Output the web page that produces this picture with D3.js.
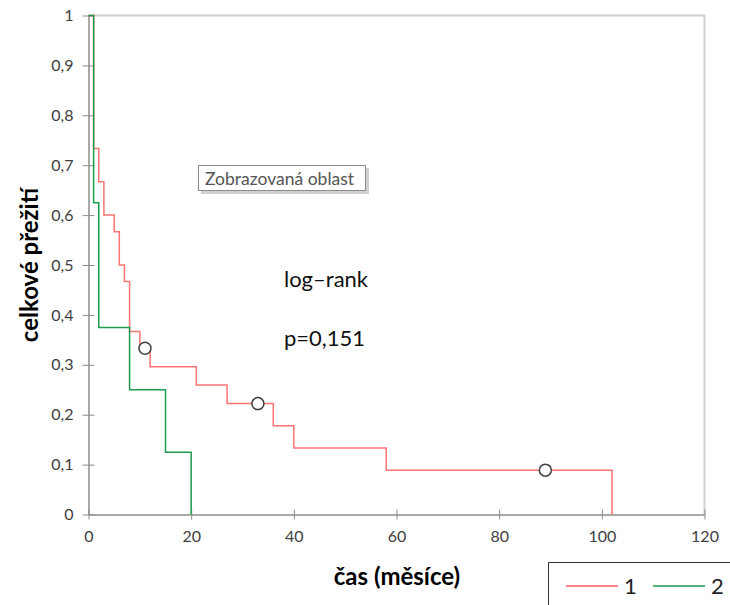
<!DOCTYPE html>
<html><head><meta charset="utf-8">
<script src="https://cdn.jsdelivr.net/npm/d3@7"></script>
<style>body{margin:0;background:#fff}svg{display:block;font-family:Lato,"Open Sans",sans-serif}</style>
</head><body><svg id="c" width="730" height="605"></svg>
<script>
// Group 1 (red) step times and survival
const times1 = [0, 1, 2, 3, 5, 6, 7, 8, 10, 12, 21, 27, 36, 40, 58, 102];
const surv1  = [1, 0.7333, 0.6667, 0.6, 0.5667, 0.5, 0.4667, 0.3667, 0.3333, 0.2963, 0.2593, 0.2222, 0.1778, 0.1333, 0.0889, 0];
const censT1 = [11, 33, 89];
const censS1 = [0.3333, 0.2222, 0.0889];
// Group 2 (green)
const times2 = [0, 1, 2, 8, 15, 20];
const surv2  = [1, 0.625, 0.375, 0.25, 0.125, 0];
const xTicks = [0, 20, 40, 60, 80, 100, 120];
const yTicks = [0, 0.1, 0.2, 0.3, 0.4, 0.5, 0.6, 0.7, 0.8, 0.9, 1];
const seriesNames = ["1", "2"];
const colors = ["#ff5a5a", "#1f9a4e"];

const svg = d3.select("#c");
const x = d3.scaleLinear().domain([0, 120]).range([88.5, 704.5]);
const y = d3.scaleLinear().domain([0, 1]).range([514.5, 15.5]);
const fmt = d => String(d).replace(".", ",");

// frame (top & right)
svg.append("path").attr("d", `M${x(0)},${y(1)}H${x(120)}V${y(0)}`)
  .attr("fill", "none").attr("stroke", "#d0d0d0").attr("stroke-width", 2);

// axes
const xa = svg.append("g").attr("transform", `translate(0,${y(0)})`)
  .call(d3.axisBottom(x).tickValues(xTicks).tickSize(5).tickSizeOuter(0).tickFormat(d => d));
xa.selectAll(".tick line").attr("y1", -5);
const ya = svg.append("g").attr("transform", `translate(${x(0)},0)`)
  .call(d3.axisLeft(y).tickValues(yTicks).tickSize(5).tickSizeOuter(0).tickFormat(fmt));
ya.selectAll(".tick line").attr("x1", -6).attr("x2", 6);
[xa, ya].forEach(a => {
  a.select(".domain").attr("stroke", "#8c8c8c").attr("stroke-width", 1.5);
  a.selectAll(".tick line").attr("stroke", "#8c8c8c");
  a.selectAll("text").attr("fill", "#404040").style("font-size", "16px").style("font-family", "Lato, sans-serif");
});
xa.selectAll("text").attr("y", 16);
ya.selectAll("text").attr("x", -15);

// step lines
const line = d3.line().x(d => x(d[0])).y(d => y(d[1])).curve(d3.curveStepAfter);
const data1 = times1.map((t, i) => [t, surv1[i]]);
const data2 = times2.map((t, i) => [t, surv2[i]]);
svg.append("path").datum(data1).attr("d", line).attr("fill", "none")
  .attr("stroke", colors[0]).attr("stroke-width", 1.5).attr("stroke-opacity", 0.85);
svg.append("path").datum(data2).attr("d", line).attr("fill", "none")
  .attr("stroke", colors[1]).attr("stroke-width", 1.5);

// censor marks
svg.selectAll("circle.cens").data(censT1.map((t, i) => [t, censS1[i]])).join("circle")
  .attr("cx", d => x(d[0])).attr("cy", d => y(d[1])).attr("r", 6)
  .attr("fill", "#fff").attr("stroke", "#404040").attr("stroke-width", 1.5);

// annotation
svg.append("text").attr("x", 284).attr("y", 287).text("log–rank")
  .style("font-size", "22px").attr("fill", "#111");
svg.append("text").attr("x", 284).attr("y", 346).text("p=0,151")
  .style("font-size", "22px").attr("fill", "#111");

// tooltip box
svg.append("rect").attr("x", 201).attr("y", 168).attr("width", 168).attr("height", 26).attr("fill", "#b0b0b0").attr("opacity", 0.6);
svg.append("rect").attr("x", 198.5).attr("y", 165.5).attr("width", 167).attr("height", 25).attr("fill", "#fff").attr("stroke", "#8c8c8c");
svg.append("text").attr("x", 205).attr("y", 184.5).text("Zobrazovaná oblast")
  .style("font-size", "17.5px").attr("fill", "#555");

// axis titles
svg.append("text").attr("x", 397).attr("y", 585).attr("text-anchor", "middle")
  .text("čas (měsíce)").style("font-size", "24px").style("font-weight", "bold").attr("fill", "#000");
svg.append("text").attr("transform", "translate(38,265) rotate(-90)").attr("text-anchor", "middle")
  .text("celkové přežití").style("font-size", "24px").style("font-weight", "bold").attr("fill", "#000");

// legend
svg.append("path").attr("d", "M548.5,605V562.5H730").attr("fill", "none").attr("stroke", "#333").attr("stroke-width", 1);
const lg = svg.append("g");
seriesNames.forEach((n, i) => {
  const lx = 566 + i * 87;
  lg.append("line").attr("x1", lx).attr("x2", lx + 52).attr("y1", 586).attr("y2", 586)
    .attr("stroke", colors[i]).attr("stroke-width", 1.5);
  lg.append("text").attr("x", lx + 58).attr("y", 594).text(n).style("font-size", "22px").attr("fill", "#222");
});
</script></body></html>
